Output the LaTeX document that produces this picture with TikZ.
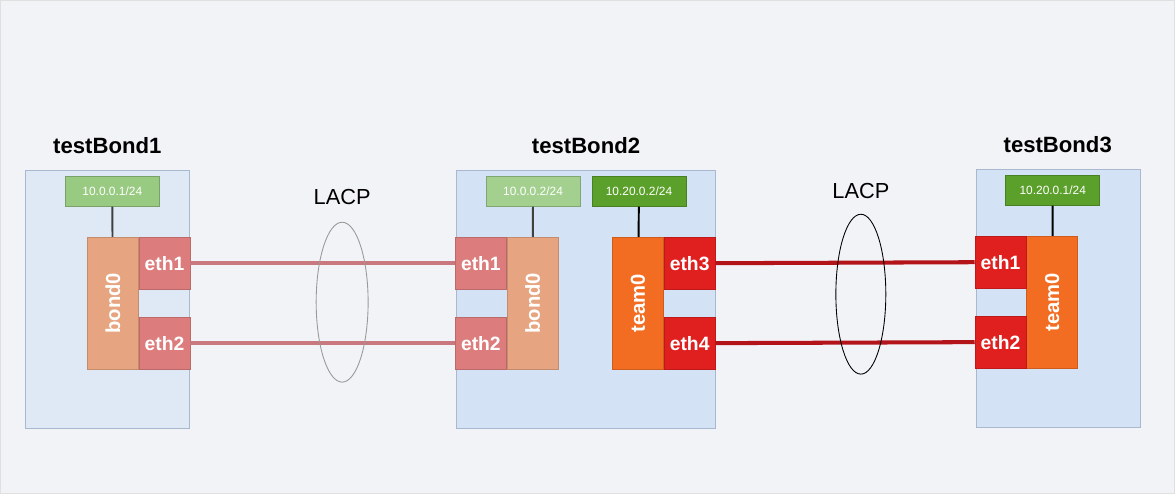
\documentclass[tikz,border=0pt]{standalone}
\usepackage{fontspec}
\setmainfont{Liberation Sans}
\usetikzlibrary{positioning,shapes.geometric}
\definecolor{pagebg}{HTML}{F2F3F7}
\definecolor{hostline}{HTML}{A9B7CF}
\definecolor{hostpale}{HTML}{DFE8F5}
\definecolor{hostblue}{HTML}{D3E2F4}
\definecolor{ippale}{HTML}{99CA82}
\definecolor{iplight}{HTML}{A3D08E}
\definecolor{ipdark}{HTML}{5BA02B}
\definecolor{bondfill}{HTML}{E6A580}
\definecolor{teamfill}{HTML}{F26C22}
\definecolor{ethpale}{HTML}{DC7C7C}
\definecolor{ethred}{HTML}{E01F1F}
\definecolor{wirepale}{HTML}{C8787E}
\definecolor{wirered}{HTML}{B3141A}
\tikzset{>=latex}

\begin{document}
\begin{tikzpicture}[x=0.02cm,y=-0.02cm,
  hostbox/.style={draw=hostline,fill=hostblue,minimum height=5.16cm,anchor=north west,inner sep=0pt},
  hosttitle/.style={font=\fontsize{12.6}{15}\selectfont\bfseries},
  ipbox/.style={draw=#1!80!black,fill=#1,minimum width=1.88cm,minimum height=0.6cm,inner sep=0pt,
    text=white,font=\fontsize{6.8}{8}\selectfont},
  lagbox/.style={draw=#1!85!black,fill=#1,minimum width=1.02cm,minimum height=2.64cm,inner sep=0pt},
  portbox/.style={draw=#1!85!black,fill=#1,minimum width=1.02cm,minimum height=1.04cm,inner sep=0pt,
    text=white,font=\fontsize{11}{13}\selectfont\bfseries},
  lagname/.style={rotate=90,text=white,font=\fontsize{11.5}{13}\selectfont\bfseries},
  ipwire/.style={line width=1.1pt,draw=#1},
  lagwire/.style={line width=2.3pt,draw=#1},
  lacpring/.style={ellipse,draw=#1,line width=0.5pt,minimum height=3.2cm},
  lacptext/.style={font=\fontsize{12.4}{15}\selectfont}]
  \draw[draw=black!12,fill=pagebg] (0,0) rectangle (1175,493);

  % hosts
  \node[hostbox,fill=hostpale,minimum width=3.28cm] (host1) at (25,170) {};
  \node[hostbox,minimum width=5.18cm] (host2) at (456,170) {};
  \node[hostbox,minimum width=3.28cm] (host3) at (976,169) {};
  \node[hosttitle] (title1) at (107,145) {testBond1};
  \node[hosttitle] (title2) at (586,145) {testBond2};
  \node[hosttitle] (title3) at (1058,144) {testBond3};

  % testBond1
  \node[ipbox=ippale] (b1-ip) at (112,191) {10.0.0.1/24};
  \node[lagbox=bondfill] (b1-bond) at (112.5,303) {};
  \node[lagname] at (b1-bond) {bond0};
  \node[portbox=ethpale,anchor=north west] (b1-eth1) at (b1-bond.north east) {eth1};
  \node[portbox=ethpale,anchor=south west] (b1-eth2) at (b1-bond.south east) {eth2};
  \draw[ipwire=black!75] (b1-ip) -- (b1-bond);

  % testBond2
  \node[ipbox=iplight] (b2-ip1) at (533,191) {10.0.0.2/24};
  \node[ipbox=ipdark] (b2-ip2) at (639,191) {10.20.0.2/24};
  \node[lagbox=bondfill] (b2-bond) at (532.5,303) {};
  \node[lagname] at (b2-bond) {bond0};
  \node[portbox=ethpale,anchor=north east] (b2-eth1) at (b2-bond.north west) {eth1};
  \node[portbox=ethpale,anchor=south east] (b2-eth2) at (b2-bond.south west) {eth2};
  \node[lagbox=teamfill] (b2-team) at (638,303) {};
  \node[lagname] at (b2-team) {team0};
  \node[portbox=ethred,anchor=north west] (b2-eth3) at (b2-team.north east) {eth3};
  \node[portbox=ethred,anchor=south west] (b2-eth4) at (b2-team.south east) {eth4};
  \draw[ipwire=black!75] (b2-ip1) -- (b2-bond);
  \draw[ipwire=black] (b2-ip2) -- (b2-team);

  % testBond3
  \node[ipbox=ipdark] (b3-ip) at (1053,190) {10.20.0.1/24};
  \node[lagbox=teamfill] (b3-team) at (1052.5,302) {};
  \node[lagname] at (b3-team) {team0};
  \node[portbox=ethred,anchor=north east] (b3-eth1) at (b3-team.north west) {eth1};
  \node[portbox=ethred,anchor=south east] (b3-eth2) at (b3-team.south west) {eth2};
  \draw[ipwire=black] (b3-ip) -- (b3-team);

  % links
  \draw[lagwire=wirepale] (b1-eth1.east) -- (b2-eth1.west);
  \draw[lagwire=wirepale] (b1-eth2.east) -- (b2-eth2.west);
  \draw[lagwire=wirered] (b2-eth3.east) -- (b3-eth1.west);
  \draw[lagwire=wirered] (b2-eth4.east) -- (b3-eth2.west);

  \node[lacpring=black!40,minimum width=1.04cm] (ring1) at (342,302) {};
  \node[lacpring=black,minimum width=1.0cm] (ring2) at (861,294) {};
  \node[lacptext] (lacp1) at (342,197) {LACP};
  \node[lacptext] (lacp2) at (861,191) {LACP};
\end{tikzpicture}
\end{document}
